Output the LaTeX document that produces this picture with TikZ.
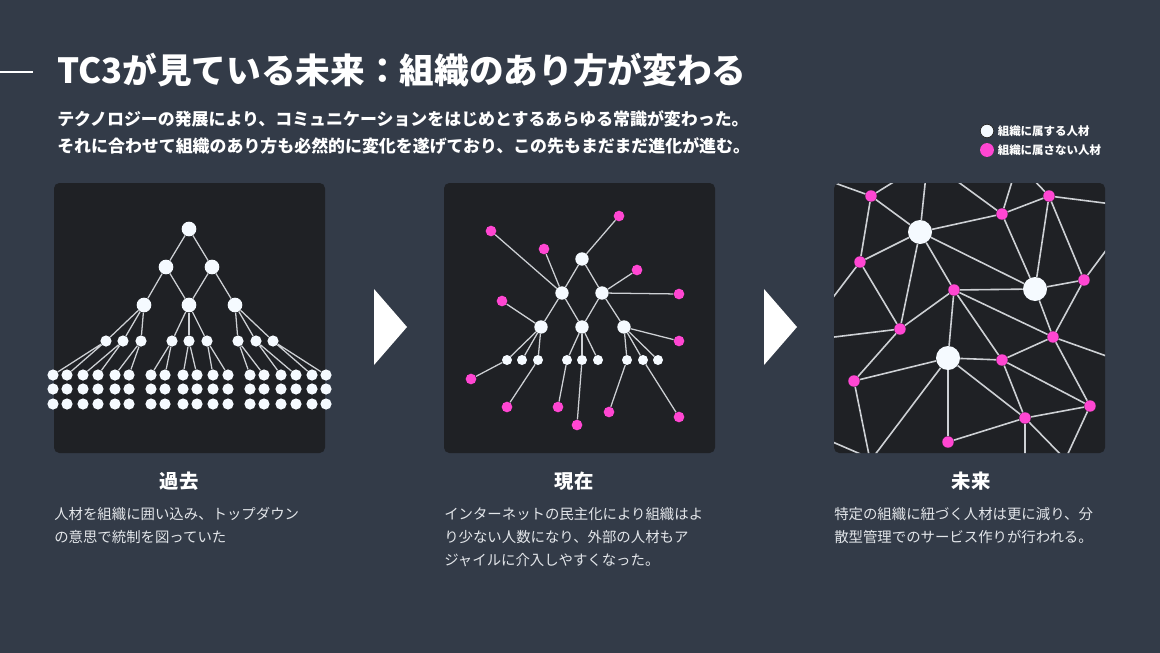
\documentclass[tikz,border=0pt]{standalone}
\usepackage{fontspec}
\setmainfont{Noto Sans CJK JP}
\usetikzlibrary{positioning}
\definecolor{bgslate}{HTML}{333B48}
\definecolor{panelbg}{HTML}{1F2125}
\definecolor{pinkcol}{HTML}{FF46D2}
\definecolor{whitecol}{HTML}{F5FAFF}
\definecolor{edgegray}{HTML}{CDD0D4}
\definecolor{bodytext}{HTML}{E3E6EA}
\pgfdeclarelayer{panels}
\pgfdeclarelayer{edges}
\pgfsetlayers{panels,edges,main}
\tikzset
{
    panel/.style    = {fill=panelbg, rounded corners=4pt},
    memberL/.style  = {circle, fill=whitecol, inner sep=0pt, minimum size=11pt},
    memberS/.style  = {circle, fill=whitecol, inner sep=0pt, minimum size=8.4pt},
    hubM/.style     = {circle, fill=whitecol, inner sep=0pt, minimum size=10pt},
    hubS/.style     = {circle, fill=whitecol, inner sep=0pt, minimum size=7.5pt},
    hubL/.style     = {circle, fill=whitecol, inner sep=0pt, minimum size=18pt},
    outsider/.style = {circle, fill=pinkcol, inner sep=0pt, minimum size=8pt},
    outsiderL/.style= {circle, fill=pinkcol, inner sep=0pt, minimum size=8.6pt},
    link/.style     = {draw=edgegray, line width=0.95pt},
    netlink/.style  = {draw=edgegray, line width=1.2pt},
    heading/.style  = {text=white, font=\bfseries\fontsize{14.5}{17}\selectfont, inner sep=0pt},
    body/.style     = {text=bodytext, font=\fontsize{10.8}{17.25}\selectfont, align=left, anchor=north west, inner sep=0pt}
}

\begin{document}
\begin{tikzpicture}[x=0.75pt, y=-0.75pt]
\useasboundingbox (0,0) rectangle (1160,653);
\begin{pgfonlayer}{panels}
	\fill [bgslate] (0,0) rectangle (1160,653);
	\fill [panel] (54,183) rectangle (325,453);
	\fill [panel] (444,183) rectangle (715,453);
	\fill [panel] (834,183) rectangle (1105,453);
\end{pgfonlayer}

	\draw [white, line width=1.5pt] (0,72) -- (33,72);
	\node (title) [anchor=west, inner sep=0pt, text=white, font=\bfseries\fontsize{26}{30}\selectfont] at (57,70) {TC3が見ている未来：組織のあり方が変わる};
	\node (lead) [anchor=north west, align=left, inner sep=0pt, text=white, font=\bfseries\fontsize{12.7}{20.25}\selectfont] at (57,110) {テクノロジーの発展により、コミュニケーションをはじめとするあらゆる常識が変わった。\\それに合わせて組織のあり方も必然的に変化を遂げており、この先もまだまだ進化が進む。};

	\node (keyin) [circle, draw=black!85, line width=0.6pt, fill=whitecol, inner sep=0pt, minimum size=10.2pt] at (987,131) {};
	\node (keyout) [circle, fill=pinkcol, inner sep=0pt, minimum size=10.4pt] at (987,150) {};
	\node (keyintext) [right=2.5pt of keyin, inner sep=0pt, text=white, font=\bfseries\fontsize{8.6}{10}\selectfont] {組織に属する人材};
	\node (keyouttext) [right=2.5pt of keyout, inner sep=0pt, text=white, font=\bfseries\fontsize{8.6}{10}\selectfont] {組織に属さない人材};

	\fill [white] (374,289) -- (407,327) -- (374,365) -- cycle;
	\fill [white] (764,289) -- (797,327) -- (764,365) -- cycle;

	% past
	\node (pr) [memberL] at (189,229) {};
	\node (pa1) [memberL] at (166,267) {};
	\node (pa2) [memberL] at (212,267) {};
	\node (pb1) [memberL] at (144,305) {};
	\node (pb2) [memberL] at (189,305) {};
	\node (pb3) [memberL] at (235,305) {};
	\foreach \i/\cx in {1/106,2/123,3/141,4/172,5/189,6/207,7/238,8/256,9/273}
		\node (pc\i) [memberS] at (\cx,341) {};
	\foreach \i/\xl/\xr in {1/53/67,2/83/98,3/115/129,4/151/165,5/183/197,6/213/228,7/250/264,8/281/296,9/312/326}
		\foreach \j/\ly in {1/375,2/389,3/404}
		{
			\node (pl\i a\j) [memberS] at (\xl,\ly) {};
			\node (pl\i b\j) [memberS] at (\xr,\ly) {};
		}

	% present
	\node (nw1) [hubM] at (582,259) {};
	\node (nw2) [hubM] at (562,293) {};
	\node (nw3) [hubM] at (602,293) {};
	\node (nw4) [hubM] at (541,327) {};
	\node (nw5) [hubM] at (582,327) {};
	\node (nw6) [hubM] at (624,327) {};
	\foreach \i/\sx in {1/507,2/522,3/538,4/567,5/582,6/598,7/627,8/643,9/658}
		\node (ns\i) [hubS] at (\sx,360) {};
	\node (np1) [outsider] at (491,231) {};
	\node (np2) [outsider] at (619,216) {};
	\node (np3) [outsider] at (544,249) {};
	\node (np4) [outsider] at (637,270) {};
	\node (np5) [outsider] at (679,294) {};
	\node (np6) [outsider] at (502,301) {};
	\node (np7) [outsider] at (679,341) {};
	\node (np8) [outsider] at (471,379) {};
	\node (np9) [outsider] at (507,407) {};
	\node (np10) [outsider] at (558,407) {};
	\node (np11) [outsider] at (577,425) {};
	\node (np12) [outsider] at (609,412) {};
	\node (np13) [outsider] at (679,417) {};

	% future
	\node (fwb) [hubL] at (920,232) {};
	\node (fwg) [hubL] at (1035,289) {};
	\node (fwk) [hubL] at (948,358) {};
	\node (fpa) [outsiderL] at (871,196) {};
	\node (fpc) [outsiderL] at (1002,214) {};
	\node (fpd) [outsiderL] at (1049,196) {};
	\node (fpe) [outsiderL] at (860,262) {};
	\node (fpf) [outsiderL] at (954,290) {};
	\node (fph) [outsiderL] at (1084,280) {};
	\node (fpi) [outsiderL] at (900,329) {};
	\node (fpj) [outsiderL] at (1053,337) {};
	\node (fpl) [outsiderL] at (1002,360) {};
	\node (fpm) [outsiderL] at (854,381) {};
	\node (fpn) [outsiderL] at (1090,406) {};
	\node (fpo) [outsiderL] at (1025,418) {};
	\node (fpp) [outsiderL] at (948,442) {};
	\coordinate (fx1) at (832,182);
	\coordinate (fx2) at (900,178);
	\coordinate (fx3) at (926,175);
	\coordinate (fx4) at (950,176);
	\coordinate (fx5) at (1014,175);
	\coordinate (fx6) at (1030,176);
	\coordinate (fx7) at (1112,204);
	\coordinate (fx8) at (1110,245);
	\coordinate (fx9) at (828,304);
	\coordinate (fx10) at (826,338);
	\coordinate (fx11) at (1112,358);
	\coordinate (fx12) at (870,460);
	\coordinate (fx13) at (871,460);
	\coordinate (fx14) at (1025,460);
	\coordinate (fx15) at (1066,460);
	\coordinate (fx16) at (1065,460);
	\coordinate (fx17) at (828,440);
	\coordinate (fx18) at (872,459);

	\node (past) [heading] at (179,481) {過去};
	\node (present) [heading] at (574,481) {現在};
	\node (future) [heading] at (971,481) {未来};
	\node (pasttext) [body] at (54,507) {人材を組織に囲い込み、トップダウン\\の意思で統制を図っていた};
	\node (presenttext) [body] at (444,507) {インターネットの民主化により組織はよ\\り少ない人数になり、外部の人材もア\\ジャイルに介入しやすくなった。};
	\node (futuretext) [body] at (834,507) {特定の組織に紐づく人材は更に減り、分\\散型管理でのサービス作りが行われる。};

\begin{pgfonlayer}{edges}
	\draw [link] (pr) -- (pa1);
	\draw [link] (pr) -- (pa2);
	\draw [link] (pa1) -- (pb1);
	\draw [link] (pa1) -- (pb2);
	\draw [link] (pa2) -- (pb2);
	\draw [link] (pa2) -- (pb3);
	\foreach \i in {1,2,3} \draw [link] (pb1) -- (pc\i);
	\foreach \i in {4,5,6} \draw [link] (pb2) -- (pc\i);
	\foreach \i in {7,8,9} \draw [link] (pb3) -- (pc\i);
	\foreach \i in {1,...,9} \draw [link] (pc\i) -- (pl\i a1) (pc\i) -- (pl\i b1);

	\draw [link] (nw1) -- (nw2);
	\draw [link] (nw1) -- (nw3);
	\draw [link] (nw1) -- (np2);
	\draw [link] (nw2) -- (np1);
	\draw [link] (nw2) -- (np3);
	\draw [link] (nw2) -- (nw4);
	\draw [link] (nw2) -- (nw5);
	\draw [link] (nw3) -- (nw5);
	\draw [link] (nw3) -- (nw6);
	\draw [link] (nw3) -- (np4);
	\draw [link] (nw3) -- (np5);
	\draw [link] (nw4) -- (np6);
	\foreach \i in {1,2,3} \draw [link] (nw4) -- (ns\i);
	\foreach \i in {4,5,6} \draw [link] (nw5) -- (ns\i);
	\foreach \i in {7,8,9} \draw [link] (nw6) -- (ns\i);
	\draw [link] (nw6) -- (np7);
	\draw [link] (ns1) -- (np8);
	\draw [link] (ns3) -- (np9);
	\draw [link] (ns4) -- (np10);
	\draw [link] (ns5) -- (np11);
	\draw [link] (ns7) -- (np12);
	\draw [link] (ns8) -- (np13);

	\begin{scope}
	\clip [rounded corners=4pt] (834,183) rectangle (1105,453);
	\foreach \a/\b in {fpa/fwb,fpa/fpe,fwb/fpc,fwb/fpe,fwb/fwg,fwb/fpf,fwb/fpi,fpc/fpd,fpc/fwg,fpd/fwg,fpd/fph,fpe/fpi,fpf/fwg,fpf/fpi,fpf/fwk,fpf/fpj,fpf/fpl,fwg/fph,fwg/fpj,fph/fpj,fpi/fpm,fpj/fpl,fpj/fpn,fwk/fpm,fwk/fpl,fwk/fpo,fwk/fpp,fpl/fpo,fpl/fpn,fpn/fpo,fpo/fpp}
		\draw [netlink] (\a) -- (\b);
	\foreach \a/\b in {fpa/fx1,fpa/fx2,fwb/fx3,fpc/fx4,fpc/fx5,fpd/fx6,fpd/fx7,fph/fx8,fpe/fx9,fpi/fx10,fpj/fx11,fpm/fx12,fwk/fx13,fpo/fx14,fpo/fx15,fpn/fx16,fx17/fx18}
		\draw [netlink] (\a) -- (\b);
	\end{scope}
\end{pgfonlayer}
\end{tikzpicture}
\end{document}
